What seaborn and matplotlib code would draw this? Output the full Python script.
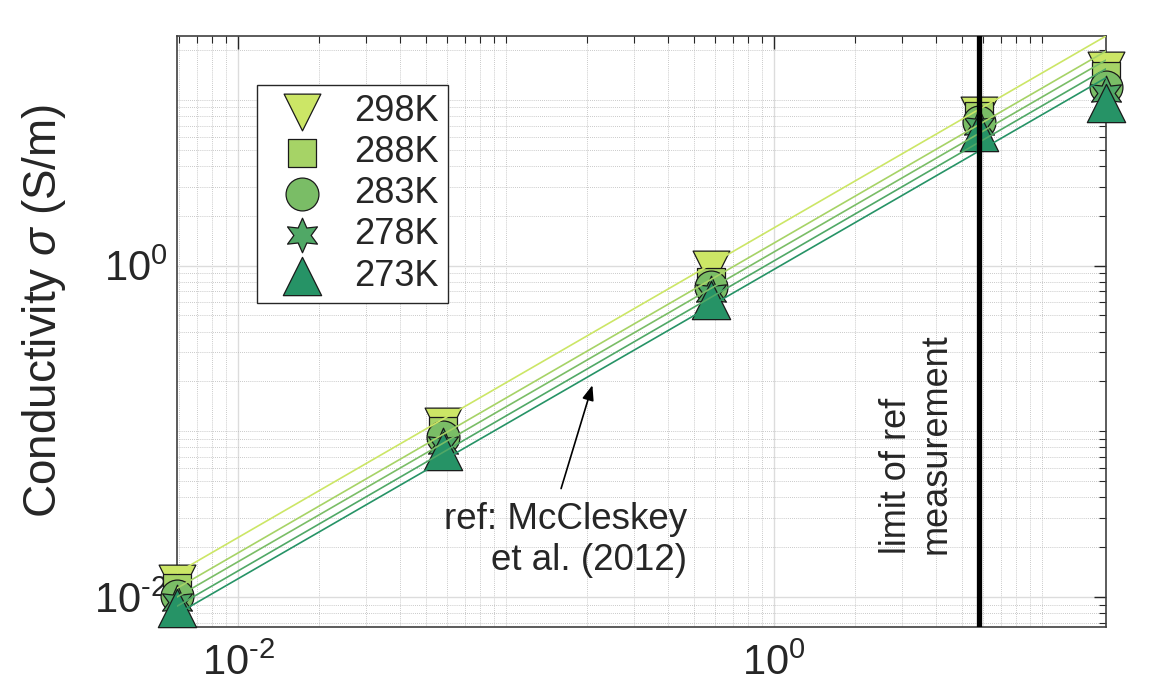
import numpy as np
import pandas as pd
import matplotlib
matplotlib.use("Agg")
import matplotlib.pyplot as plt
import matplotlib.ticker as mticker
import seaborn as sns

# measured conductivity vs molality, per temperature
molality = [0.0059, 0.058, 0.58, 5.8, 17.3]
temps = ["298K", "288K", "283K", "278K", "273K"]
sigma_298 = [0.0122, 0.107, 0.95, 8.1, 15.2]
sigma_288 = [0.0113, 0.100, 0.80, 8.0, 14.0]
sigma_283 = [0.0101, 0.092, 0.74, 7.4, 12.0]
sigma_278 = [0.0093, 0.083, 0.68, 7.0, 11.0]
sigma_273 = [0.0086, 0.0758, 0.62, 6.4, 9.6]

# reference model (McCleskey et al. 2012), end points of each line
model_x = [0.0059, 17.3]
model_298 = [0.0140, 24.3]
model_288 = [0.0113, 19.7]
model_283 = [0.0100, 17.4]
model_278 = [0.0088, 15.4]
model_273 = [0.0079, 13.6]

limit_x = 5.8

colors = ["#CCE666", "#A6D366", "#7ABD66", "#50A866", "#269366"]
markers = ["v", "s", "o", (6, 1, 0), "^"]
sizes = [700, 420, 560, 620, 760]

meas = [sigma_298, sigma_288, sigma_283, sigma_278, sigma_273]
model = [model_298, model_288, model_283, model_278, model_273]

df = pd.DataFrame({
    "m": molality * len(temps),
    "sigma": sum(meas, []),
    "T": np.repeat(temps, len(molality)),
})
dm = pd.DataFrame({
    "m": model_x * len(temps),
    "sigma": sum(model, []),
    "T": np.repeat(temps, len(model_x)),
})

sns.set_style("white")
plt.rcParams["font.family"] = ["Liberation Sans", "DejaVu Sans"]
plt.rcParams["mathtext.fontset"] = "custom"
plt.rcParams["mathtext.rm"] = "Liberation Sans"
plt.rcParams["mathtext.it"] = "Liberation Sans:italic"


def pow10(v, pos):
    e = int(round(np.log10(v)))
    if e < 0:
        return r"$\mathdefault{10^{\text{-}%d}}$" % (-e)
    return r"$\mathdefault{10^{%d}}$" % e


fig = plt.figure(figsize=(11.49, 6.92), dpi=100)
ax = fig.add_axes([0.154, 0.094, 0.8086, 0.854])
ax.set_xscale("log")
ax.set_yscale("log")

handles = []
for i, t in enumerate(temps):
    sub = df[df["T"] == t]
    sns.scatterplot(data=sub, x="m", y="sigma", ax=ax, marker=markers[i],
                    s=sizes[i], color=colors[i], edgecolor="#1a1a1a",
                    linewidth=0.9, zorder=3 + i, clip_on=False, legend=False)
    handles.append(ax.collections[-1])

for i, t in enumerate(temps):
    sub = dm[dm["T"] == t]
    sns.lineplot(data=sub, x="m", y="sigma", ax=ax, color=colors[i],
                 linewidth=1.2, zorder=10, legend=False)

ax.axvline(limit_x, color="black", linewidth=3.8, zorder=11)

ax.set_xlim(0.0059, 17.3)
ax.set_ylim(0.0066, 24.3)

for axis in [ax.xaxis, ax.yaxis]:
    axis.set_major_locator(mticker.FixedLocator([1e-2, 1e0]))
    axis.set_major_formatter(mticker.FuncFormatter(pow10))
    axis.set_minor_locator(mticker.LogLocator(base=10, subs=np.arange(1, 10), numticks=20))
    axis.set_minor_formatter(mticker.NullFormatter())

ax.grid(True, which="major", color="#dcdcdc", linewidth=1.0, linestyle="-")
ax.grid(True, which="minor", color="#b8b8b8", linewidth=0.6, linestyle=(0, (1, 1.5)))
ax.tick_params(which="both", direction="in", top=True, right=True, colors="#262626")
ax.tick_params(which="major", length=9, width=1.0, labelsize=30)
ax.tick_params(axis="x", which="major", pad=12)
ax.tick_params(axis="y", which="major", pad=7)
ax.tick_params(which="minor", length=5, width=0.8)
for s in ax.spines.values():
    s.set_color("#404040")
    s.set_linewidth(1.2)

ax.set_xlabel("")
ax.set_ylabel(r"Conductivity $\sigma$ (S/m)", fontsize=33)
ax.yaxis.set_label_coords(-0.117, 0.535)

ax.text(3.39, 0.0182, "limit of ref\nmeasurement", rotation=90, fontsize=26,
        ha="center", va="bottom", multialignment="left", zorder=12)

ax.annotate("", xy=(0.211, 0.197), xytext=(0.159, 0.0435),
            arrowprops=dict(arrowstyle="-|>,head_length=0.9,head_width=0.35",
                            color="black", linewidth=1.2), zorder=12)
ax.text(0.473, 0.0373, "ref: McCleskey\net al. (2012)", fontsize=26.5,
        ha="right", va="top", multialignment="right", zorder=12)

leg = ax.legend(handles, temps, loc="upper left", bbox_to_anchor=(0.086, 0.917),
                fontsize=26, frameon=True, fancybox=False, edgecolor="#262626",
                framealpha=1, borderpad=0.25, labelspacing=0.17,
                handletextpad=0.45, borderaxespad=0)
leg.get_frame().set_linewidth(1.0)
leg.set_zorder(20)

fig.savefig("out.png", dpi=100)
